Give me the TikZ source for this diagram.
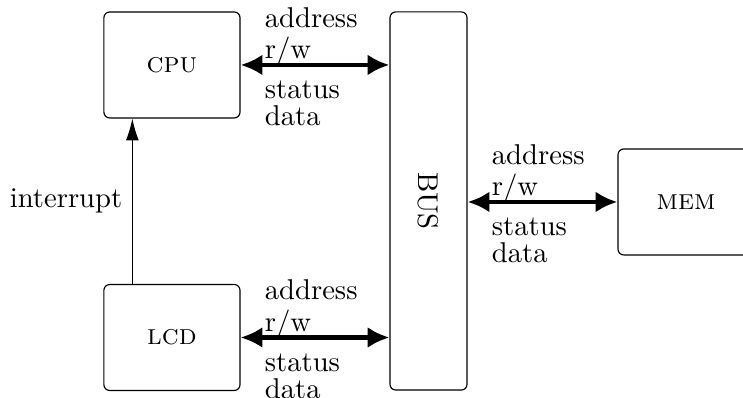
\documentclass[tikz,border=0pt]{standalone}
\usetikzlibrary{arrows.meta, positioning}
\tikzset{
  block/.style={draw, rounded corners=2pt, minimum width=1.67cm, minimum height=1.30cm, font=\scshape},
  busbox/.style={draw, rounded corners=2pt, minimum width=0.945cm, minimum height=4.64cm},
  % thick two-way bus link
  link/.style={{Latex[length=7.6pt, width=7.3pt]}-{Latex[length=7.6pt, width=7.3pt]}, ultra thick},
  irq/.style={-{Latex[length=7.6pt, width=4.5pt]}},
  % signal names above / below a link
  sigup/.style={pos=0, anchor=south west, align=left, inner sep=0pt, xshift=0.27cm, yshift=-0.04cm},
  sigdown/.style={pos=0, anchor=north west, align=left, inner sep=0pt, xshift=0.27cm, yshift=-0.17cm},
}
\begin{document}
\begin{tikzpicture}
  \useasboundingbox (0,0) rectangle (9.117,4.883);
  % units
  \node[block] (cpu) at (2.110,4.086) {cpu};
  \node[block] (lcd) at (2.110,0.742) {lcd};
  \node[busbox] (bus) at (5.258,2.417) {};
  \node[rotate=-90] (buslabel) at (bus.center) {BUS};
  \node[block] (mem) at (8.418,2.405) {mem};
  % links to the bus
  \draw[link] (cpu.east) -- (cpu.east -| bus.west)
    node[sigup] {address\\[-1pt]r/w} node[sigdown] {status\\[-2.5pt]data};
  \draw[link] (lcd.east) -- (lcd.east -| bus.west)
    node[sigup] {address\\[-1pt]r/w} node[sigdown] {status\\[-2.5pt]data};
  \draw[link] (bus.east |- mem.west) -- (mem.west)
    node[sigup] {address\\[-1pt]r/w} node[sigdown] {status\\[-2.5pt]data};
  % interrupt line
  \coordinate (irqstart) at ([xshift=0.356cm]lcd.north west);
  \draw[irq] (irqstart) -- (irqstart |- cpu.south) node[midway, left] {interrupt};
\end{tikzpicture}
\end{document}
